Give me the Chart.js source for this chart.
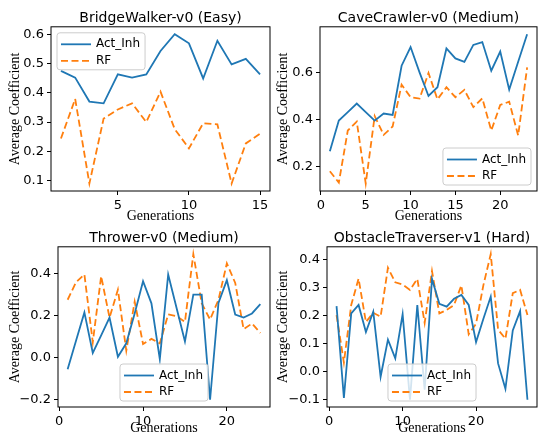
<!DOCTYPE html>
<html lang="en">
<head>
<meta charset="UTF-8">
<title>Average Coefficient per Generation</title>
<script src="https://cdn.jsdelivr.net/npm/chart.js"></script>
<style>
  body { margin: 0; background: #fff; width: 538px; height: 436px; position: relative; overflow: hidden; }
  canvas { position: absolute; }
</style>
</head>
<body>
<canvas id="c1" width="272" height="230" style="left:0;top:0"></canvas>
<canvas id="c2" width="266" height="230" style="left:272px;top:0"></canvas>
<canvas id="c3" width="272" height="208" style="left:0;top:228px"></canvas>
<canvas id="c4" width="266" height="208" style="left:272px;top:228px"></canvas>
<script>
// --- data ---
const bwGens = [1, 2, 3, 4, 5, 6, 7, 8, 9, 10, 11, 12, 13, 14, 15];
const bwAct = [0.475, 0.452, 0.370, 0.364, 0.463, 0.452, 0.463, 0.543, 0.600, 0.569, 0.449, 0.578, 0.497, 0.516, 0.463];
const bwRF  = [0.244, 0.379, 0.090, 0.312, 0.343, 0.364, 0.300, 0.404, 0.276, 0.210, 0.296, 0.292, 0.090, 0.227, 0.260];

const ccGens = [1, 2, 3, 4, 5, 6, 7, 8, 9, 10, 11, 12, 13, 14, 15, 16, 17, 18, 19, 20, 21, 22, 23];
const ccAct = [0.266, 0.396, 0.432, 0.468, 0.432, 0.396, 0.426, 0.420, 0.628, 0.707, 0.600, 0.500, 0.537, 0.701, 0.659, 0.644, 0.716, 0.728, 0.607, 0.688, 0.527, 0.645, 0.761];
const ccRF  = [0.182, 0.134, 0.354, 0.392, 0.130, 0.415, 0.336, 0.371, 0.548, 0.495, 0.489, 0.597, 0.486, 0.537, 0.495, 0.526, 0.453, 0.490, 0.354, 0.462, 0.476, 0.333, 0.621];

const thGens = [1, 2, 3, 4, 5, 6, 7, 8, 9, 10, 11, 12, 13, 14, 15, 16, 17, 18, 19, 20, 21, 22, 23, 24];
const thAct = [-0.055, 0.080, 0.215, 0.022, 0.106, 0.190, 0.004, 0.068, 0.210, 0.363, 0.258, -0.007, 0.395, 0.236, 0.077, 0.299, 0.299, -0.200, 0.260, 0.368, 0.205, 0.190, 0.210, 0.254];
const thRF  = [0.275, 0.358, 0.395, 0.073, 0.387, 0.190, 0.323, 0.033, 0.266, 0.065, 0.089, 0.068, 0.205, 0.197, 0.170, 0.492, 0.258, 0.181, 0.275, 0.448, 0.355, 0.135, 0.162, 0.117];

const otGens = [1, 2, 3, 4, 5, 6, 7, 8, 9, 10, 11, 12, 13, 14, 15, 16, 17, 18, 19, 20, 21, 22, 23, 24, 25, 26, 27];
const otAct = [0.235, -0.094, 0.209, 0.239, 0.142, 0.215, -0.018, 0.115, 0.048, 0.206, -0.100, 0.239, -0.064, 0.332, 0.243, 0.233, 0.261, 0.275, 0.239, 0.106, 0.190, 0.269, 0.030, -0.061, 0.148, 0.217, -0.100];
const otRF  = [0.203, 0.033, 0.239, 0.333, 0.178, 0.211, 0.197, 0.372, 0.320, 0.312, 0.293, 0.332, 0.175, 0.360, 0.209, 0.221, 0.239, 0.309, 0.134, 0.172, 0.310, 0.421, 0.151, 0.118, 0.281, 0.293, 0.203];

// tick labels
const bwXTicks = [5, 10, 15];
const bwYTicks = [0.1, 0.2, 0.3, 0.4, 0.5, 0.6];
const ccXTicks = [0, 5, 10, 15, 20];
const ccYTicks = [0.2, 0.4, 0.6];
const thXTicks = [0, 10, 20];
const thYTicks = [-0.2, 0.0, 0.2, 0.4];
const otXTicks = [0, 10, 20];
const otYTicks = [-0.1, 0.0, 0.1, 0.2, 0.3, 0.4];

const SANS = "'DejaVu Sans', sans-serif";
const SERIF = "'Liberation Serif', 'DejaVu Serif', serif";

Chart.defaults.font.family = SANS;
Chart.defaults.font.size = 13;
Chart.defaults.color = '#000';

// matplotlib-like autoscale: 5% margin on each side
function limits(arrs) {
  const all = [].concat(...arrs);
  const lo = Math.min(...all), hi = Math.max(...all);
  const m = (hi - lo) * 0.05;
  return [lo - m, hi + m];
}

// box round the axes (all four spines)
const frame = {
  id: 'frame',
  afterDraw(chart) {
    const { ctx, chartArea: a } = chart;
    ctx.save();
    ctx.strokeStyle = '#000';
    ctx.lineWidth = 1;
    ctx.strokeRect(a.left, a.top, a.right - a.left, a.bottom - a.top);
    ctx.restore();
  }
};

// legend in a rounded box inside the axes
const boxLegend = {
  id: 'boxLegend',
  afterDatasetsDraw(chart, args, opts) {
    const { ctx, chartArea: a } = chart;
    ctx.save();
    ctx.font = '12px ' + SANS;
    const tw = Math.max(...chart.data.datasets.map(d => ctx.measureText(d.label).width));
    const w = 39 + tw + 5, h = 37, pad = 6;
    let x, y;
    if (opts.loc === 'upper left') { x = a.left + pad; y = a.top + pad; }
    else if (opts.loc === 'lower right') { x = a.right - pad - w; y = a.bottom - pad - h; }
    else { x = (a.left + a.right) / 2 - w / 2; y = a.bottom - pad - h; }
    ctx.beginPath();
    ctx.roundRect(x, y, w, h, 3);
    ctx.fillStyle = 'rgba(255,255,255,0.8)';
    ctx.fill();
    ctx.strokeStyle = '#cccccc';
    ctx.lineWidth = 1;
    ctx.stroke();
    chart.data.datasets.forEach((ds, i) => {
      const cy = y + 11.5 + i * 16.5;
      ctx.beginPath();
      ctx.setLineDash(ds.borderDash || []);
      ctx.strokeStyle = ds.borderColor;
      ctx.lineWidth = ds.borderWidth;
      ctx.moveTo(x + 4, cy);
      ctx.lineTo(x + 34, cy);
      ctx.stroke();
      ctx.setLineDash([]);
      ctx.fillStyle = '#000';
      ctx.textBaseline = 'middle';
      ctx.fillText(ds.label, x + 39, cy);
    });
    ctx.restore();
  }
};

const fmtY = v => (v < -1e-9 ? '\u2212' : '') + Math.abs(v).toFixed(1);

function makeChart(id, c) {
  const [ymin, ymax] = limits([c.act, c.rf]);
  const [xmin, xmax] = limits([c.gens]);
  return new Chart(document.getElementById(id), {
    type: 'line',
    data: {
      datasets: [
        { label: 'Act_Inh', data: c.gens.map((g, i) => ({ x: g, y: c.act[i] })),
          borderColor: '#1f77b4', borderWidth: 1.8, pointRadius: 0, tension: 0 },
        { label: 'RF', data: c.gens.map((g, i) => ({ x: g, y: c.rf[i] })),
          borderColor: '#ff7f0e', borderWidth: 1.8, borderDash: [7, 3.5], pointRadius: 0, tension: 0 }
      ]
    },
    options: {
      responsive: false,
      animation: false,
      devicePixelRatio: 1,
      layout: { padding: { left: 0, right: c.padR, top: 0, bottom: 0 } },
      plugins: {
        legend: { display: false },
        tooltip: { enabled: false },
        title: { display: true, text: c.title, fullSize: false, color: '#000',
                 font: { family: SANS, size: 14, weight: 'normal' },
                 padding: { top: c.titleTop, bottom: 0 } },
        boxLegend: { loc: c.loc }
      },
      scales: {
        x: {
          type: 'linear', min: xmin, max: xmax,
          afterBuildTicks: s => { s.ticks = c.xTicks.map(v => ({ value: v })); },
          afterFit: s => { s.height = c.xH; },
          grid: { drawOnChartArea: false, tickLength: 4, color: '#000' },
          border: { display: false },
          ticks: { padding: 3, color: '#000', font: { size: 13 }, maxRotation: 0, callback: v => String(v) },
          title: { display: true, text: 'Generations', color: '#000',
                   font: { family: SERIF, size: 14, lineHeight: 1 }, padding: { top: 0, bottom: c.xTitleB } }
        },
        y: {
          min: ymin, max: ymax,
          afterBuildTicks: s => { s.ticks = c.yTicks.map(v => ({ value: v })); },
          afterFit: s => { s.width = c.yW; },
          grid: { drawOnChartArea: false, tickLength: 4, color: '#000' },
          border: { display: false },
          ticks: { padding: 3, color: '#000', font: { size: 13 }, callback: fmtY },
          title: { display: true, text: 'Average Coefficient', color: '#000',
                   font: { family: SERIF, size: 14 }, padding: { top: c.yTitleTop, bottom: 0 } }
        }
      }
    },
    plugins: [frame, boxLegend]
  });
}

makeChart('c1', { title: 'BridgeWalker-v0 (Easy)', gens: bwGens, act: bwAct, rf: bwRF,
  xTicks: bwXTicks, yTicks: bwYTicks, loc: 'upper left',
  yW: 51, padR: 2, titleTop: 10, yTitleTop: 6.6, xH: 39, xTitleB: 6.9 });
makeChart('c2', { title: 'CaveCrawler-v0 (Medium)', gens: ccGens, act: ccAct, rf: ccRF,
  xTicks: ccXTicks, yTicks: ccYTicks, loc: 'lower right',
  yW: 48, padR: 1, titleTop: 10, yTitleTop: 2.6, xH: 39, xTitleB: 6.9 });
makeChart('c3', { title: 'Thrower-v0 (Medium)', gens: thGens, act: thAct, rf: thRF,
  xTicks: thXTicks, yTicks: thYTicks, loc: 'lower center',
  yW: 58, padR: 2, titleTop: 2, yTitleTop: 6.6, xH: 29, xTitleB: 0.5 });
makeChart('c4', { title: 'ObstacleTraverser-v1 (Hard)', gens: otGens, act: otAct, rf: otRF,
  xTicks: otXTicks, yTicks: otYTicks, loc: 'lower center',
  yW: 55, padR: 1, titleTop: 2, yTitleTop: 2.6, xH: 29, xTitleB: 0.5 });
</script>
</body>
</html>
